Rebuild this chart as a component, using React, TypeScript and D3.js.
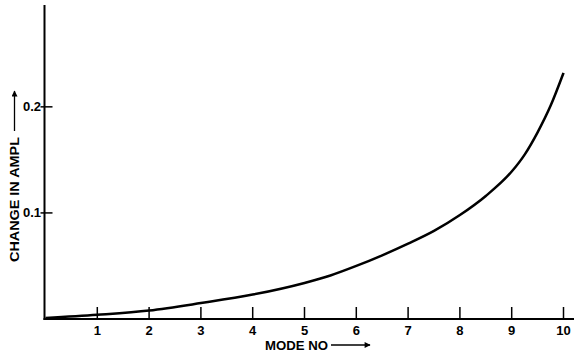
import React, { useEffect, useRef } from 'react';
import * as d3 from 'd3';

// values
const modes = [0, 1, 2, 3, 4, 5, 5.5, 6, 6.5, 7, 7.5, 8, 8.5, 9, 9.25, 9.5, 9.75, 10];
const ampl = [0.001, 0.004, 0.008, 0.015, 0.023, 0.034, 0.041, 0.05, 0.06, 0.071, 0.083, 0.098, 0.116, 0.139, 0.155, 0.176, 0.201, 0.232];
const xTicks = [1, 2, 3, 4, 5, 6, 7, 8, 9, 10];
const yTicks = [0.1, 0.2];

const W = 574;
const H = 353;

const App = () => {
  const svgRef = useRef<SVGSVGElement>(null);

  useEffect(() => {
    const svg = d3.select(svgRef.current);
    svg.selectAll('*').remove();

    const x = d3.scaleLinear().domain([0, 10]).range([45.5, 563.5]);
    const y = d3.scaleLinear().domain([0, 0.296]).range([319, 5]);
    const font = '"Liberation Sans", Arial, sans-serif';

    const defs = svg.append('defs');
    defs.append('marker')
      .attr('id', 'arrow')
      .attr('viewBox', '0 0 10 10')
      .attr('refX', 9)
      .attr('refY', 5)
      .attr('markerWidth', 10)
      .attr('markerHeight', 6)
      .attr('markerUnits', 'userSpaceOnUse')
      .attr('orient', 'auto')
      .append('path')
      .attr('d', 'M0,0 L10,5 L0,10 Z')
      .attr('fill', '#000');

    // axes
    svg.append('line')
      .attr('x1', x(0) - 1).attr('x2', x(0) - 1)
      .attr('y1', y(0.296)).attr('y2', y(0) + 1)
      .attr('stroke', '#000').attr('stroke-width', 2);
    svg.append('line')
      .attr('x1', x(0) - 2).attr('x2', W)
      .attr('y1', y(0)).attr('y2', y(0))
      .attr('stroke', '#000').attr('stroke-width', 2);

    // x ticks point up
    svg.selectAll('.xt').data(xTicks).enter().append('line')
      .attr('x1', d => x(d)).attr('x2', d => x(d))
      .attr('y1', y(0)).attr('y2', y(0) - 12)
      .attr('stroke', '#000').attr('stroke-width', 1.5);
    svg.selectAll('.xl').data(xTicks).enter().append('text')
      .attr('x', d => x(d)).attr('y', 335)
      .attr('text-anchor', 'middle')
      .attr('font-family', font).attr('font-weight', 'bold').attr('font-size', 13)
      .text(d => d);

    // y ticks cross the axis
    svg.selectAll('.yt').data(yTicks).enter().append('line')
      .attr('x1', x(0) - 5).attr('x2', x(0) + 7)
      .attr('y1', d => y(d)).attr('y2', d => y(d))
      .attr('stroke', '#000').attr('stroke-width', 1.5);
    svg.selectAll('.yl').data(yTicks).enter().append('text')
      .attr('x', 41).attr('y', d => y(d) + 4.5)
      .attr('text-anchor', 'end')
      .attr('font-family', font).attr('font-weight', 'bold').attr('font-size', 13)
      .text(d => d.toFixed(1));

    // curve
    const line = d3.line<number>()
      .x((_, i) => x(modes[i]))
      .y(d => y(d))
      .curve(d3.curveMonotoneX);
    svg.append('path')
      .datum(ampl)
      .attr('fill', 'none')
      .attr('stroke', '#000')
      .attr('stroke-width', 2.5)
      .attr('d', line);

    // axis titles
    svg.append('text')
      .attr('x', 265).attr('y', 350)
      .attr('font-family', font).attr('font-weight', 'bold').attr('font-size', 12)
      .attr('textLength', 63).attr('lengthAdjust', 'spacingAndGlyphs')
      .text('MODE NO');
    svg.append('line')
      .attr('x1', 331).attr('x2', 370).attr('y1', 345).attr('y2', 345)
      .attr('stroke', '#000').attr('stroke-width', 1.3)
      .attr('marker-end', 'url(#arrow)');

    svg.append('text')
      .attr('transform', 'translate(19,262) rotate(-90)')
      .attr('font-family', font).attr('font-weight', 'bold').attr('font-size', 13)
      .attr('textLength', 125).attr('lengthAdjust', 'spacingAndGlyphs')
      .text('CHANGE IN AMPL');
    svg.append('line')
      .attr('x1', 14.5).attr('x2', 14.5).attr('y1', 131).attr('y2', 91)
      .attr('stroke', '#000').attr('stroke-width', 1.3)
      .attr('marker-end', 'url(#arrow)');
  }, []);

  return (
    <svg
      ref={svgRef}
      width={W}
      height={H}
      style={{ position: 'absolute', left: 0, top: 0, background: '#fff' }}
    />
  );
};

export default App;
